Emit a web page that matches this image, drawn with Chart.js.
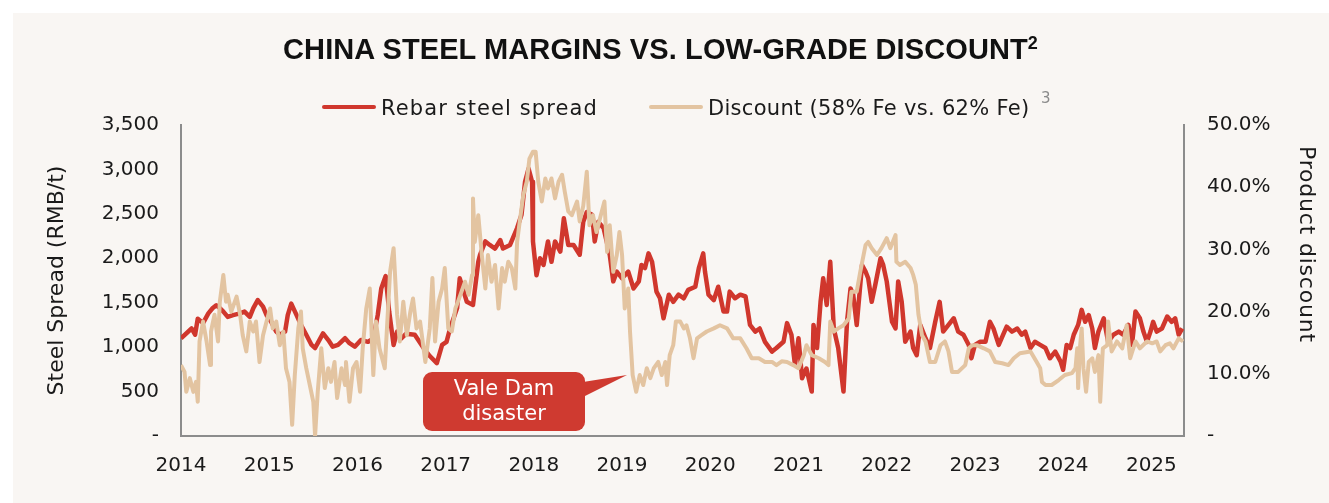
<!DOCTYPE html>
<html>
<head>
<meta charset="utf-8">
<script src="https://cdn.jsdelivr.net/npm/chart.js@4.4.1/dist/chart.umd.min.js"></script>
<style>
  html, body { margin: 0; padding: 0; background: #fff; }
  body { width: 1329px; height: 503px; position: relative; overflow: hidden;
         font-family: "DejaVu Sans", sans-serif; color: #1a1a1a; }
  .panel { position: absolute; left: 13px; top: 13px; right: 0; bottom: 0; background: #f9f6f3; }
  .chart-wrap { position: absolute; left: 0; top: 0; width: 1329px; height: 503px; }
  .title { position: absolute; left: 0; width: 1321px; top: 35px; text-align: center;
           font: bold 29px/29px "Liberation Sans", Arial, sans-serif; color: #111; letter-spacing: 0.1px; }
  .title .sup { font-size: 18px; position: relative; top: -10px; }
  .legend-line { position: absolute; top: 105px; width: 54px; height: 4px; border-radius: 2px; }
  .legend-text { position: absolute; top: 96px; font-size: 21px; line-height: 24px; letter-spacing: 0.3px; white-space: nowrap; }
  .legend-sup { position: absolute; left: 1041px; top: 89px; font-size: 15px; color: #8a8a8a; }
  .y2-title { position: absolute; left: 1294px; top: 146px; writing-mode: vertical-rl;
              font-size: 22px; line-height: 26px; letter-spacing: 0.8px; white-space: nowrap; }
</style>
</head>
<body>
<div class="panel"></div>
<div class="chart-wrap"><canvas id="chart"></canvas></div>
<div class="title">CHINA STEEL MARGINS VS. LOW-GRADE DISCOUNT<span class="sup">2</span></div>
<div class="legend-line" style="left:322px;background:#d0372d"></div>
<div class="legend-text" style="left:381px;letter-spacing:1.1px">Rebar steel spread</div>
<div class="legend-line" style="left:649px;background:#e3c4a1"></div>
<div class="legend-text" style="left:708px">Discount (58% Fe vs. 62% Fe)</div>
<div class="legend-sup">3</div>
<div class="y2-title">Product discount</div>

<script>
// ── Dados ────────────────────────────────────────────────────────────────────
// datas em anos decimais (2014.50 = meio de 2014)

const rebarDates = [
  2014.00, 2014.12, 2014.16, 2014.19, 2014.25, 2014.31, 2014.36, 2014.40, 2014.44, 2014.48,
  2014.53, 2014.59, 2014.67, 2014.72, 2014.78, 2014.82, 2014.87, 2014.93, 2014.97,
  2015.02, 2015.08, 2015.12, 2015.18, 2015.21, 2015.25, 2015.31, 2015.36, 2015.42, 2015.48,
  2015.52, 2015.55, 2015.61, 2015.67, 2015.72, 2015.78, 2015.86, 2015.91, 2015.97,
  2016.04, 2016.12, 2016.18, 2016.23, 2016.27, 2016.32, 2016.36, 2016.41, 2016.45, 2016.50,
  2016.55, 2016.65, 2016.75, 2016.82, 2016.90, 2016.96,
  2017.01, 2017.05, 2017.13, 2017.16, 2017.24, 2017.31, 2017.37, 2017.39, 2017.45, 2017.50,
  2017.56, 2017.62, 2017.65, 2017.73, 2017.81, 2017.86, 2017.90, 2017.94, 2017.98, 2017.99,
  2018.03, 2018.07, 2018.11, 2018.16, 2018.20, 2018.24, 2018.30, 2018.34, 2018.39, 2018.45,
  2018.52, 2018.56, 2018.60, 2018.66, 2018.69, 2018.73, 2018.79, 2018.86, 2018.90, 2018.94,
  2019.00, 2019.07, 2019.13, 2019.19, 2019.22, 2019.26, 2019.30, 2019.34, 2019.39, 2019.43,
  2019.47, 2019.53, 2019.58, 2019.64, 2019.70, 2019.75, 2019.83, 2019.87, 2019.92, 2019.94, 2019.98,
  2020.04, 2020.09, 2020.15, 2020.19, 2020.22, 2020.28, 2020.34, 2020.40, 2020.45, 2020.51,
  2020.56, 2020.62, 2020.70, 2020.75, 2020.83, 2020.87, 2020.92, 2020.96,
  2021.00, 2021.04, 2021.09, 2021.15, 2021.17, 2021.21, 2021.25, 2021.28, 2021.32, 2021.36,
  2021.40, 2021.45, 2021.51, 2021.55, 2021.59, 2021.62, 2021.66, 2021.72, 2021.76, 2021.79,
  2021.83, 2021.87, 2021.93, 2021.96,
  2022.00, 2022.06, 2022.10, 2022.13, 2022.17, 2022.21, 2022.27, 2022.30, 2022.34, 2022.38,
  2022.44, 2022.49, 2022.55, 2022.60, 2022.64, 2022.70, 2022.76, 2022.81, 2022.87, 2022.93, 2022.96,
  2023.00, 2023.06, 2023.12, 2023.17, 2023.21, 2023.27, 2023.32, 2023.36, 2023.42, 2023.48,
  2023.53, 2023.57, 2023.63, 2023.68, 2023.74, 2023.80, 2023.85, 2023.91, 2023.97,
  2024.00, 2024.04, 2024.08, 2024.12, 2024.17, 2024.21, 2024.25, 2024.29, 2024.33, 2024.36,
  2024.40, 2024.46, 2024.51, 2024.57, 2024.63, 2024.68, 2024.74, 2024.78, 2024.82, 2024.87,
  2024.91, 2024.95, 2024.99,
  2025.02, 2025.06, 2025.12, 2025.18, 2025.23, 2025.27, 2025.31, 2025.35,
];

// RMB/t
const rebarSpread = [
  1100, 1210, 1140, 1320, 1270, 1380, 1440, 1470, 1440, 1400,
  1340, 1360, 1380, 1400, 1340, 1440, 1530, 1455, 1360,
  1290, 1175, 1140, 1175, 1360, 1490, 1360, 1250, 1140, 1025,
  990, 1045, 1155, 1080, 1005, 1025, 1100, 1045, 1005,
  1080, 1060, 1100, 1360, 1660, 1800, 1400, 1025, 1175, 1100,
  1150, 1140, 990, 900, 820, 1025,
  1060, 1210, 1440, 1775, 1510, 1475, 1960, 2040, 2190, 2150,
  2110, 2205, 2110, 2150, 2340, 2490, 2860, 3010, 2860, 2190,
  1810, 2000, 1925, 2190, 1960, 2190, 2075, 2450, 2150, 2150,
  2040, 2410, 2520, 2490, 2190, 2410, 2340, 2040, 1740, 1850,
  1775, 1850, 1660, 1740, 1925, 1890, 2055, 1960, 1625, 1550,
  1325, 1590, 1510, 1590, 1550, 1645, 1680, 1890, 2055, 1850, 1590,
  1530, 1680, 1400, 1400, 1625, 1550, 1590, 1570, 1250, 1175,
  1210, 1060, 950, 990, 1060, 1270, 1140, 800,
  1100, 650, 760, 500, 1250, 990, 1510, 1775, 1475, 1960,
  1210, 990, 500, 1285, 1660, 1590, 1250, 1925, 1850, 1775,
  1510, 1700, 2000, 1925,
  1740, 1285, 1210, 1740, 1510, 1060, 1175, 990, 910, 1250,
  1100, 990, 1285, 1510, 1175, 1250, 1325, 1175, 1140, 1025, 875,
  1025, 1060, 1060, 1285, 1210, 1025, 1140, 1230, 1175, 1210,
  1140, 1175, 990, 1060, 1025, 990, 875, 950, 840,
  745, 1025, 990, 1140, 1250, 1420, 1285, 1360, 1210, 990,
  1175, 1325, 1060, 1140, 1175, 1140, 1250, 1025, 1400, 1325,
  1175, 1060, 1175,
  1285, 1175, 1210, 1345, 1285, 1325, 1140, 1210,
];

const discountDates = [
  2014.00, 2014.04, 2014.06, 2014.10, 2014.14, 2014.17, 2014.19, 2014.21, 2014.25, 2014.29,
  2014.33, 2014.34, 2014.38, 2014.42, 2014.44, 2014.48, 2014.51, 2014.53, 2014.57, 2014.63,
  2014.67, 2014.70, 2014.74, 2014.78, 2014.82, 2014.85, 2014.89, 2014.93, 2014.97,
  2015.01, 2015.04, 2015.08, 2015.12, 2015.16, 2015.19, 2015.23, 2015.26, 2015.29, 2015.33,
  2015.36, 2015.38, 2015.42, 2015.46, 2015.50, 2015.52, 2015.55, 2015.59, 2015.63, 2015.67,
  2015.70, 2015.74, 2015.77, 2015.82, 2015.86, 2015.87, 2015.91, 2015.95, 2015.99,
  2016.03, 2016.06, 2016.10, 2016.14, 2016.18, 2016.21, 2016.25, 2016.31, 2016.37, 2016.41,
  2016.45, 2016.48, 2016.52, 2016.56, 2016.60, 2016.63, 2016.67, 2016.71, 2016.77, 2016.82,
  2016.85, 2016.88, 2016.92, 2016.96, 2016.99,
  2017.03, 2017.07, 2017.11, 2017.14, 2017.18, 2017.22, 2017.26, 2017.30, 2017.31, 2017.33,
  2017.37, 2017.41, 2017.45, 2017.48, 2017.52, 2017.56, 2017.60, 2017.64, 2017.67, 2017.71,
  2017.75, 2017.79, 2017.81, 2017.84, 2017.88, 2017.92, 2017.95, 2017.99,
  2018.02, 2018.05, 2018.09, 2018.13, 2018.16, 2018.20, 2018.24, 2018.28, 2018.32, 2018.35,
  2018.39, 2018.43, 2018.49, 2018.52, 2018.56, 2018.60, 2018.63, 2018.67, 2018.71, 2018.75,
  2018.80, 2018.83, 2018.86, 2018.90, 2018.94, 2018.97,
  2019.00, 2019.03, 2019.07, 2019.09, 2019.12, 2019.16, 2019.20, 2019.24, 2019.28, 2019.32,
  2019.36, 2019.41, 2019.45, 2019.49, 2019.51, 2019.54, 2019.58, 2019.61, 2019.66, 2019.70,
  2019.73, 2019.77, 2019.81, 2019.85, 2019.90, 2019.96,
  2020.04, 2020.11, 2020.19, 2020.26, 2020.34, 2020.41, 2020.47, 2020.55, 2020.62, 2020.70,
  2020.75, 2020.81, 2020.87, 2020.94,
  2021.00, 2021.06, 2021.09, 2021.15, 2021.23, 2021.30, 2021.34, 2021.36, 2021.40, 2021.45,
  2021.51, 2021.57, 2021.60, 2021.66, 2021.70, 2021.76, 2021.79, 2021.83, 2021.89, 2021.94,
  2022.00, 2022.04, 2022.10, 2022.11, 2022.15, 2022.21, 2022.27, 2022.30, 2022.33, 2022.36,
  2022.40, 2022.44, 2022.49, 2022.55, 2022.61, 2022.66, 2022.70, 2022.74, 2022.81, 2022.89,
  2022.93, 2022.97,
  2023.02, 2023.10, 2023.17, 2023.23, 2023.31, 2023.38, 2023.44, 2023.51, 2023.63, 2023.70,
  2023.74, 2023.76, 2023.80, 2023.87, 2023.95,
  2024.02, 2024.10, 2024.14, 2024.16, 2024.17, 2024.19, 2024.21, 2024.23, 2024.26, 2024.29,
  2024.33, 2024.36, 2024.40, 2024.42, 2024.45, 2024.50, 2024.51, 2024.55, 2024.61, 2024.67,
  2024.72, 2024.76, 2024.82, 2024.87, 2024.95,
  2025.01, 2025.06, 2025.10, 2025.16, 2025.21, 2025.25, 2025.31, 2025.36,
];

// % (58% Fe vs. 62% Fe)
const discountPct = [
  11.4, 10.3, 7.1, 9.3, 7.1, 8.7, 5.5, 15.2, 18.4, 15.2,
  11.4, 16.8, 19.5, 15.2, 21.6, 25.9, 21.6, 22.7, 20.0, 22.4,
  19.5, 16.2, 13.6, 18.4, 16.8, 18.4, 11.9, 16.2, 18.4,
  20.5, 17.3, 18.4, 14.6, 16.8, 10.9, 8.7, 1.8, 9.8, 17.3,
  20.0, 14.1, 10.9, 8.2, 5.5, 0.0, 7.1, 14.1, 7.7, 10.9,
  8.7, 11.9, 6.1, 10.9, 8.2, 11.9, 5.5, 10.9, 11.9,
  7.1, 14.1, 20.5, 23.7, 9.8, 18.4, 14.1, 10.9, 26.4, 30.2,
  19.5, 15.2, 21.6, 16.2, 20.0, 22.1, 17.3, 18.4, 11.9, 17.3,
  25.4, 15.2, 21.6, 23.7, 27.0,
  17.3, 16.8, 20.5, 21.6, 23.2, 24.8, 22.7, 25.9, 38.2, 31.2,
  35.5, 29.1, 23.7, 29.1, 24.8, 27.5, 20.5, 27.0, 24.8, 28.0,
  27.0, 23.7, 31.2, 34.5, 38.7, 40.9, 44.6, 45.7,
  45.7, 40.9, 37.7, 41.4, 39.8, 41.4, 38.2, 40.9, 42.0, 39.3,
  36.1, 35.5, 37.7, 34.5, 37.0, 42.5, 33.9, 35.5, 32.8, 35.0,
  37.7, 29.6, 33.9, 26.4, 29.1, 32.8,
  29.1, 20.5, 23.7, 16.8, 9.8, 7.1, 9.8, 8.2, 10.9, 9.3,
  10.9, 11.9, 9.8, 11.9, 8.2, 13.0, 14.6, 18.4, 18.4, 17.3,
  17.8, 15.7, 12.5, 15.7, 16.2, 16.8,
  17.3, 17.8, 17.3, 15.7, 15.7, 14.1, 12.5, 12.5, 11.9, 11.9,
  11.4, 12.0, 11.9, 11.4,
  10.9, 13.0, 14.6, 13.0, 12.5, 11.9, 11.4, 18.4, 16.8, 17.3,
  17.8, 18.9, 23.2, 23.2, 26.4, 30.7, 31.2, 30.2, 29.1, 30.2,
  31.8, 30.2, 32.3, 28.0, 27.5, 28.0, 27.0, 25.9, 24.3, 19.5,
  16.2, 15.2, 11.9, 11.9, 14.6, 15.2, 13.6, 10.3, 10.3, 11.4,
  14.1, 14.6,
  14.6, 14.1, 13.6, 11.9, 11.7, 11.4, 12.5, 13.3, 13.6, 11.9,
  10.9, 8.7, 8.2, 8.2, 9.0,
  9.8, 10.1, 10.9, 14.1, 7.7, 14.1, 17.3, 10.9, 7.1, 11.9,
  12.5, 10.3, 13.0, 5.5, 14.1, 14.6, 18.4, 13.6, 15.2, 14.1,
  17.8, 12.5, 15.2, 14.1, 15.2,
  14.9, 15.2, 13.6, 14.6, 14.9, 14.1, 15.7, 15.2,
];

const xYearFirst = 2014;
const xYearLast  = 2025.37;

const spreadTicks   = [0, 500, 1000, 1500, 2000, 2500, 3000, 3500];
const discountTicks = [0, 10, 20, 30, 40, 50];

const calloutLines = ["Vale Dam", "disaster"];

// ── Estilo ───────────────────────────────────────────────────────────────────
const RED       = "#d0372d";
const TAN       = "#e3c4a1";
const AXIS_GREY = "#8c8c8c";
const TEXT      = "#1a1a1a";
const FONT      = "'DejaVu Sans', sans-serif";

const toPoints = (xs, ys) => xs.map((x, i) => ({ x, y: ys[i] }));

// ── Plugin: balão "Vale Dam disaster" ────────────────────────────────────────
const calloutPlugin = {
  id: "callout",
  afterDatasetsDraw(chart) {
    const { ctx, chartArea: a } = chart;
    const x = a.left + 242, y = a.top + 247, w = 162, h = 59;

    ctx.save();
    ctx.fillStyle = "#cf3a30";
    ctx.beginPath();
    ctx.roundRect(x, y, w, h, 9);
    ctx.fill();

    ctx.beginPath();
    ctx.moveTo(x + w - 2, y + 10);
    ctx.lineTo(x + w + 42, y + 3);
    ctx.lineTo(x + w - 2, y + 25);
    ctx.closePath();
    ctx.fill();

    ctx.fillStyle = "#fff";
    ctx.font = `21px ${FONT}`;
    ctx.textAlign = "center";
    ctx.textBaseline = "middle";
    ctx.fillText(calloutLines[0], x + w / 2, y + 18);
    ctx.fillText(calloutLines[1], x + w / 2, y + 43);
    ctx.restore();
  },
};

// ── Gráfico ──────────────────────────────────────────────────────────────────
const tickFont = { family: FONT, size: 20 };

new Chart(document.getElementById("chart"), {
  type: "line",
  data: {
    datasets: [
      {
        label: "Rebar steel spread",
        data: toPoints(rebarDates, rebarSpread),
        yAxisID: "y",
        borderColor: RED,
        borderWidth: 4.5,
        borderJoinStyle: "round",
        pointRadius: 0,
        tension: 0,
        order: 1,
      },
      {
        label: "Discount (58% Fe vs. 62% Fe)",
        data: toPoints(discountDates, discountPct),
        yAxisID: "y1",
        borderColor: TAN,
        borderWidth: 4,
        borderJoinStyle: "round",
        pointRadius: 0,
        tension: 0,
        order: 0,
      },
    ],
  },
  options: {
    animation: false,
    responsive: true,
    maintainAspectRatio: false,
    layout: { padding: { top: 125, left: 0, right: 0, bottom: 0 } },
    plugins: {
      legend:  { display: false },
      tooltip: { enabled: false },
    },
    scales: {
      x: {
        type: "linear",
        min: xYearFirst,
        max: xYearLast,
        grid:   { display: false, drawTicks: false },
        border: { display: true, color: AXIS_GREY, width: 2 },
        ticks: {
          stepSize: 1,
          includeBounds: false,
          autoSkip: false,
          maxRotation: 0,
          padding: 18,
          color: TEXT,
          font: tickFont,
          callback: v => String(v),
        },
        afterFit: s => { s.height = 67; },
      },
      y: {
        position: "left",
        min: spreadTicks[0],
        max: spreadTicks[spreadTicks.length - 1],
        grid:   { display: false, drawTicks: false },
        border: { display: true, color: AXIS_GREY, width: 2 },
        afterBuildTicks: s => { s.ticks = spreadTicks.map(value => ({ value })); },
        ticks: {
          padding: 22,
          color: TEXT,
          font: tickFont,
          callback: v => v === 0 ? "-" : v.toLocaleString("en-US"),
        },
        title: {
          display: true,
          text: "Steel Spread (RMB/t)",
          color: TEXT,
          font: { family: FONT, size: 22 },
          padding: { top: 44, bottom: 0 },
        },
        afterFit: s => { s.width = 181; },
      },
      y1: {
        position: "right",
        min: discountTicks[0],
        max: discountTicks[discountTicks.length - 1],
        grid:   { display: false, drawTicks: false },
        border: { display: true, color: AXIS_GREY, width: 2 },
        afterBuildTicks: s => { s.ticks = discountTicks.map(value => ({ value })); },
        ticks: {
          padding: 23,
          color: TEXT,
          font: tickFont,
          callback: v => v === 0 ? "-" : `${v.toFixed(1)}%`,
        },
        afterFit: s => { s.width = 145; },
      },
    },
  },
  plugins: [calloutPlugin],
});
</script>
</body>
</html>
